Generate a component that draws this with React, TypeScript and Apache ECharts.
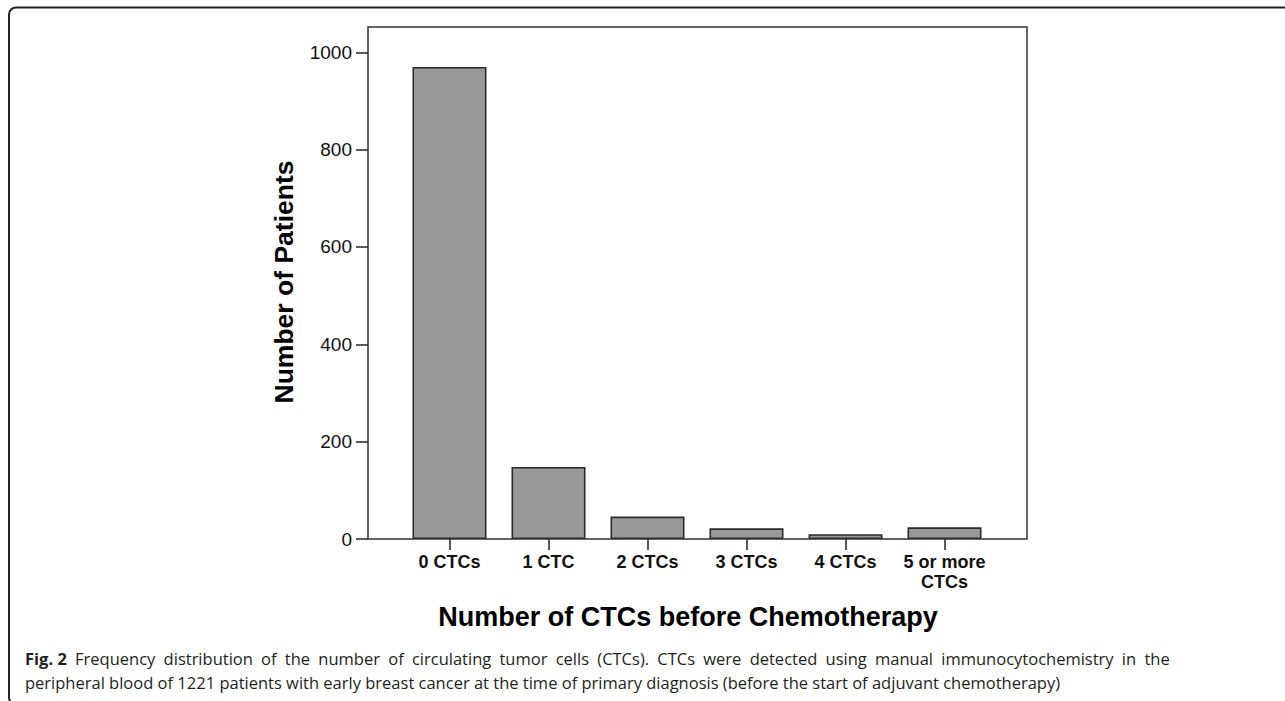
import React, { useEffect, useRef } from "react";
import * as echarts from "echarts";

const categories = ["0 CTCs", "1 CTC", "2 CTCs", "3 CTCs", "4 CTCs", "5 or more\nCTCs"];
const patients = [970, 148, 46, 22, 10, 24];
const yTicks = [0, 200, 400, 600, 800, 1000];

const yTitle = "Number of Patients";
const xTitle = "Number of CTCs before Chemotherapy";
const captionLabel = "Fig. 2";
const captionLine1 =
  "Frequency distribution of the number of circulating tumor cells (CTCs). CTCs were detected using manual immunocytochemistry in the";
const captionLine2 =
  "peripheral blood of 1221 patients with early breast cancer at the time of primary diagnosis (before the start of adjuvant chemotherapy)";

const ARIAL = "'Liberation Sans', Arial, Helvetica, sans-serif";
const CAPTION_FONT = "'Open Sans', 'Noto Sans', sans-serif";

const W = 1285;
const H = 701;
const GRID_LEFT = 400;
const GRID_RIGHT_X = 994;
const GRID_TOP = 27;
const GRID_BOTTOM_Y = 539;
const Y_OFFSET = 32;
const X_PAD_RIGHT = 33;

// justified first caption line: widen the word gaps with en spaces
const justify = (s: string) => s.split(" ").join("\u2002");

export default function App() {
  const ref = useRef<HTMLDivElement>(null);

  useEffect(() => {
    if (!ref.current) return;
    const chart = echarts.init(ref.current, null, { renderer: "svg" });
    const frameLeft = GRID_LEFT - Y_OFFSET;
    const frameRight = GRID_RIGHT_X + X_PAD_RIGHT;
    chart.setOption({
      animation: false,
      backgroundColor: "#ffffff",
      grid: {
        left: GRID_LEFT,
        right: W - GRID_RIGHT_X,
        top: GRID_TOP,
        bottom: H - GRID_BOTTOM_Y,
      },
      xAxis: {
        type: "category",
        data: categories,
        axisLine: { show: false },
        axisTick: {
          show: true,
          alignWithLabel: true,
          length: 11,
          lineStyle: { color: "#222", width: 1.5 },
        },
        axisLabel: {
          margin: 13,
          fontSize: 18,
          fontWeight: "bold",
          color: "#111",
          fontFamily: ARIAL,
          lineHeight: 20,
          interval: 0,
        },
        splitLine: { show: false },
      },
      yAxis: {
        type: "value",
        min: 0,
        max: 1052,
        interval: 200,
        offset: Y_OFFSET,
        axisLine: { show: false },
        axisTick: {
          show: true,
          length: 12,
          customValues: yTicks,
          lineStyle: { color: "#222", width: 1.5 },
        },
        axisLabel: {
          customValues: yTicks,
          margin: 16,
          fontSize: 19,
          color: "#111",
          fontFamily: ARIAL,
          formatter: (v: number) => String(v),
        },
        splitLine: { show: false },
      },
      series: [
        {
          type: "bar",
          data: patients,
          barWidth: 74,
          itemStyle: { color: "#999999", borderColor: "#2a2a2a", borderWidth: 1.6 },
        },
      ],
      graphic: [
        {
          type: "rect",
          silent: true,
          shape: { x: 9, y: 7.5, width: 1320, height: 697, r: 7 },
          style: { fill: "none", stroke: "#222", lineWidth: 2 },
        },
        {
          type: "rect",
          silent: true,
          z: 10,
          shape: {
            x: frameLeft,
            y: GRID_TOP,
            width: frameRight - frameLeft,
            height: GRID_BOTTOM_Y - GRID_TOP,
          },
          style: { fill: "none", stroke: "#333", lineWidth: 1.5 },
        },
        {
          type: "text",
          x: 284,
          y: 282,
          rotation: Math.PI / 2,
          style: {
            text: yTitle,
            fontSize: 26.5,
            fontWeight: "bold",
            fontFamily: ARIAL,
            fill: "#000",
            textAlign: "center",
            textVerticalAlign: "middle",
          },
        },
        {
          type: "text",
          x: 688,
          y: 617,
          style: {
            text: xTitle,
            fontSize: 27,
            fontWeight: "bold",
            fontFamily: ARIAL,
            fill: "#000",
            textAlign: "center",
            textVerticalAlign: "middle",
          },
        },
        {
          type: "text",
          x: 25,
          y: 646,
          style: {
            text:
              "{b|" + captionLabel + "}\u2002" + justify(captionLine1) + "\n" + captionLine2,
            fontSize: 16.5,
            fontFamily: CAPTION_FONT,
            fill: "#231f20",
            lineHeight: 24,
            textAlign: "left",
            textVerticalAlign: "top",
            rich: {
              b: {
                fontWeight: "bold",
                fontSize: 16.5,
                fontFamily: CAPTION_FONT,
                fill: "#231f20",
                lineHeight: 24,
              },
            },
          },
        },
      ],
    });
    return () => chart.dispose();
  }, []);

  return (
    <div
      ref={ref}
      style={{ position: "fixed", left: 0, top: 0, width: W, height: H, background: "#fff" }}
    />
  );
}
